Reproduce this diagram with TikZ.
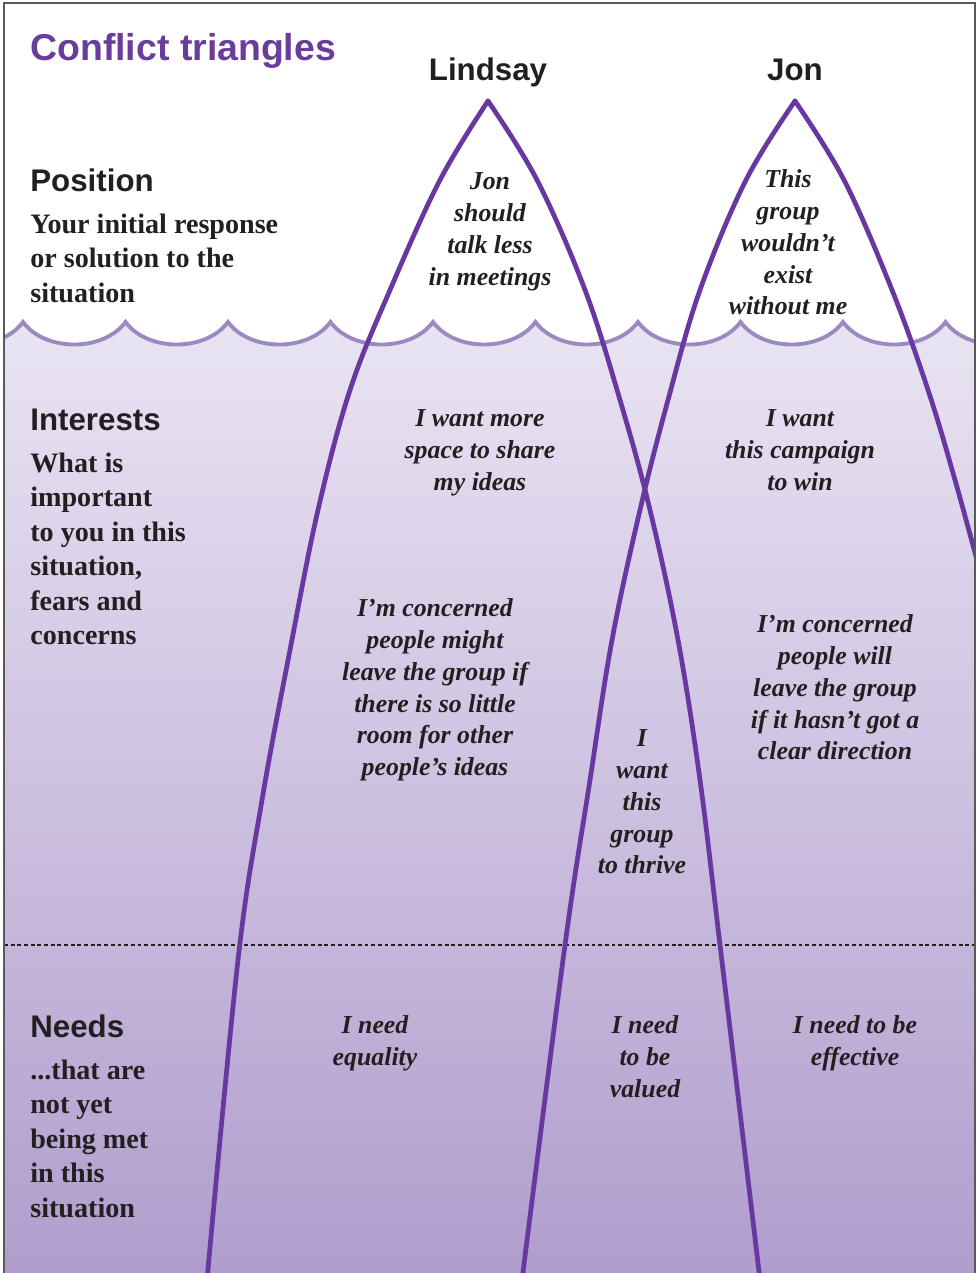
\documentclass[tikz,border=0pt]{standalone}
\usepackage{fontspec}
\setmainfont{Liberation Serif}
\setsansfont{Liberation Sans}
\definecolor{titlepurple}{RGB}{106,61,154}
\definecolor{legpurple}{RGB}{104,56,160}
\definecolor{wavepurple}{RGB}{155,138,194}
\definecolor{seatop}{RGB}{233,228,243}
\definecolor{seabot}{RGB}{176,157,205}
\definecolor{inkblack}{RGB}{35,31,32}

\begin{document}
\begin{tikzpicture}[x=0.02cm,y=-0.02cm]
  \tikzset{legline/.style={line width=2.7pt,legpurple,line cap=round,line join=round},
           waveline/.style={line width=2.2pt,wavepurple},
           frameline/.style={line width=0.9pt,gray!70!black},
           levelline/.style={line width=0.6pt,inkblack,dash pattern=on 2.2pt off 1.6pt},
           titletext/.style={inner sep=0pt,anchor=base west,titlepurple,font={\fontsize{21.3}{25}\selectfont\sffamily\bfseries}},
           headtext/.style={inner sep=0pt,inkblack,font={\fontsize{17.8}{21}\selectfont\sffamily\bfseries}},
           sidetext/.style={inner sep=0pt,anchor=north west,align=left,inkblack,font={\fontsize{16}{19.6}\selectfont\bfseries}},
           tritext/.style={inner sep=0pt,anchor=north,align=center,inkblack,font={\fontsize{14.7}{18.1}\selectfont\bfseries\itshape}}}
  \useasboundingbox (0,0) rectangle (978,1273);

  \coordinate (lindsay apex) at (488,101);
  \coordinate (jon apex) at (795,101);

  \begin{scope}
    \clip (4,3) rectangle (975,1273);
    \shade[top color=seatop,bottom color=seabot] (-79.5,322)
      \foreach \k in {-1,...,9} { .. controls +(22,30) and +(-22,30) .. ++(102.5,0) }
      -- (1048,1273) -- (-79.5,1273) -- cycle;
    \draw[waveline] (-79.5,322)
      \foreach \k in {-1,...,9} { .. controls +(22,30) and +(-22,30) .. ++(102.5,0) };
    \draw[levelline] (4,945) -- (975,945);

    \draw[legline] plot[smooth,tension=0.6] coordinates {(lindsay apex) (440,180) (390,290) (350,390)
      (318,510) (290,650) (262,800) (238,960) (207,1280)};
    \draw[legline] plot[smooth,tension=0.6] coordinates {(lindsay apex) (537,180) (585,290) (620,400)
      (650,510) (678,640) (700,780) (720,945) (760,1280)};
    \draw[legline] plot[smooth,tension=0.6] coordinates {(jon apex) (746,180) (700,290) (668,400)
      (640,510) (612,640) (590,780) (565,945) (522,1280)};
    \draw[legline] plot[smooth,tension=0.6] coordinates {(jon apex) (844,180) (892,290) (928,390)
      (955,480) (985,590)};
  \end{scope}
  \draw[frameline] (4,1273) -- (4,3) -- (975,3) -- (975,1273);

  \node[titletext] (title) at (30,61) {Conflict triangles};
  \node[headtext,anchor=base] (lindsay) at (488,81) {Lindsay};
  \node[headtext,anchor=base] (jon) at (795,81) {Jon};

  \node[headtext,anchor=base west] (position) at (30,192) {Position};
  \node[sidetext] (positiontext) at (30,209) {\strut Your initial response\\or solution to the\\situation};
  \node[headtext,anchor=base west] (interests) at (30,430) {Interests};
  \node[sidetext] (intereststext) at (30,448) {\strut What is\\important\\to you in this\\situation,\\fears and\\concerns};
  \node[headtext,anchor=base west] (needs) at (30,1037) {Needs};
  \node[sidetext] (needstext) at (30,1055) {\strut ...that are\\not yet\\being met\\in this\\situation};

  \node[tritext] (lindsaypos) at (490,167) {\strut Jon\\should\\talk less\\in meetings};
  \node[tritext] (jonpos) at (788,165) {\strut This\\group\\wouldn’t\\exist\\without me};
  \node[tritext] (lindsayint) at (480,404) {\strut I want more\\space to share\\my ideas};
  \node[tritext] (jonint) at (800,404) {\strut I want\\this campaign\\to win};
  \node[tritext] (lindsayfear) at (435,594) {\strut I’m concerned\\people might\\leave the group if\\there is so little\\room for other\\people’s ideas};
  \node[tritext] (jonfear) at (835,610) {\strut I’m concerned\\people will\\leave the group\\if it hasn’t got a\\clear direction};
  \node[tritext] (sharedint) at (642,724) {\strut I\\want\\this\\group\\to thrive};
  \node[tritext] (lindsayneed) at (375,1011) {\strut I need\\equality};
  \node[tritext] (sharedneed) at (645,1011) {\strut I need\\to be\\valued};
  \node[tritext] (jonneed) at (855,1011) {\strut I need to be\\effective};
\end{tikzpicture}
\end{document}
